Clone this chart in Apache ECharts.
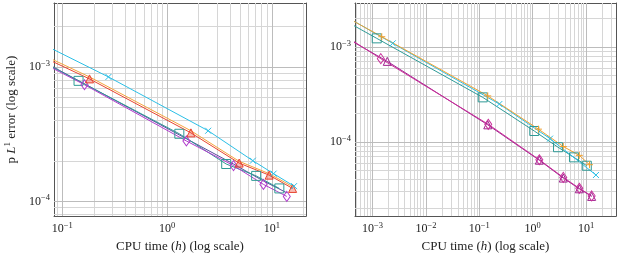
<!DOCTYPE html>
<html>
<head>
<meta charset="utf-8">
<title>CPU time vs p L1 error</title>
<script src="https://cdn.jsdelivr.net/npm/echarts@6/dist/echarts.min.js"></script>
<style>
  html, body { margin: 0; padding: 0; background: #fff; }
  #main { width: 621px; height: 258px; }
</style>
</head>
<body>
<div id="main"></div>
<script>
// ---- left panel data (CPU time in h, p L1 error) ----
// first point of every series lies left of the visible range, the line is clipped there
var leftCyanX   = [0.07, 0.276, 2.47, 6.59, 10.4, 16.3];
var leftCyanY   = [1.44e-3, 8.45e-4, 3.36e-4, 2.01e-4, 1.61e-4, 1.30e-4];
var leftOrangeX = [0.07, 0.182, 1.69, 4.88, 9.43, 15.8];
var leftOrangeY = [1.20e-3, 8.45e-4, 3.36e-4, 1.99e-4, 1.61e-4, 1.29e-4];
var leftRedX    = [0.07, 0.182, 1.69, 4.88, 9.43, 15.8];
var leftRedY    = [1.16e-3, 8.17e-4, 3.24e-4, 1.93e-4, 1.57e-4, 1.25e-4];
var leftTealX   = [0.07, 0.143, 1.31, 3.67, 7.09, 11.8];
var leftTealY   = [1.06e-3, 7.90e-4, 3.19e-4, 1.90e-4, 1.55e-4, 1.25e-4];
var leftIndigoX = [0.07, 1.53, 4.31, 8.32, 13.9];
var leftIndigoY = [1.07e-3, 2.93e-4, 1.90e-4, 1.42e-4, 1.16e-4];
var leftVioletX = [0.07, 0.163, 1.53, 4.31, 8.32, 13.9];
var leftVioletY = [1.04e-3, 7.39e-4, 2.82e-4, 1.85e-4, 1.34e-4, 1.09e-4];

// ---- right panel data ----
var rightOrangeX  = [2.5e-4, 1.49e-3, 0.144, 1.28, 3.74, 7.46, 11.6];
var rightOrangeY  = [2.23e-3, 1.28e-3, 3.05e-4, 1.36e-4, 8.92e-5, 7.20e-5, 5.74e-5];
var rightCyanX    = [2.5e-4, 2.39e-3, 0.237, 2.11, 15.3];
var rightCyanY    = [2.25e-3, 1.09e-3, 2.50e-4, 1.08e-4, 4.47e-5];
var rightTealX    = [2.5e-4, 1.20e-3, 0.116, 1.07, 2.98, 5.93, 10.3];
var rightTealY    = [2.01e-3, 1.23e-3, 2.94e-4, 1.30e-4, 8.77e-5, 6.86e-5, 5.60e-5];
var rightMagentaX = [2.5e-4, 1.43e-3, 0.147, 1.33, 3.74, 7.46, 12.7];
var rightMagentaY = [1.40e-3, 7.51e-4, 1.53e-4, 6.47e-5, 4.22e-5, 3.24e-5, 2.69e-5];
var rightPurpleX  = [2.5e-4, 1.89e-3, 0.144, 1.33, 3.74, 7.46, 12.7];
var rightPurpleY  = [1.35e-3, 7.04e-4, 1.51e-4, 6.40e-5, 4.15e-5, 3.20e-5, 2.66e-5];

// axis ranges
var leftXRange  = [0.0834, 21.2];
var leftYRange  = [7.78e-5, 3.0e-3];
var rightXRange = [4.7e-4, 36.3];
var rightYRange = [1.65e-5, 2.9e-3];

var FONT = 'Liberation Serif';

function zip(xs, ys) {
    return xs.map(function (x, i) { return [x, ys[i]]; });
}

// log grid values m x 10^d inside a range (major: m == 1)
function logGrid(range, major) {
    var out = [];
    var d0 = Math.floor(Math.log10(range[0])), d1 = Math.ceil(Math.log10(range[1]));
    for (var d = d0; d <= d1; d++) {
        for (var m = 1; m <= 9; m++) {
            if ((m === 1) !== major) continue;
            var v = m * Math.pow(10, d);
            if (v > range[0] * 1.001 && v < range[1] * 0.999) out.push(v);
        }
    }
    return out;
}

function powLabel(v) {
    var e = Math.log10(v);
    var r = Math.round(e);
    if (Math.abs(e - r) > 1e-6) return '';
    return '{n|10}{s|' + String(r).replace('-', '\u2212') + '}';
}

var labelRich = {
    n: { fontFamily: FONT, fontSize: 12, color: '#222', lineHeight: 16 },
    s: { fontFamily: FONT, fontSize: 8.5, color: '#222', verticalAlign: 'top', lineHeight: 16 }
};

function xAxisCfg(gridIndex, range, bottom) {
    return {
        type: 'log', gridIndex: gridIndex, min: range[0], max: range[1],
        position: bottom ? 'bottom' : 'top',
        axisLine: { show: true, lineStyle: { color: '#555', width: 1 } },
        axisTick: { show: true, inside: true, length: 4, lineStyle: { color: '#555' } },
        splitLine: { show: false },
        axisLabel: bottom ? { show: true, margin: 5, formatter: powLabel, rich: labelRich } : { show: false },
        name: bottom ? 'CPU time ({i|h}) (log scale)' : '',
        nameLocation: 'middle', nameGap: 23,
        nameTextStyle: {
            fontFamily: FONT, fontSize: 13, color: '#222',
            rich: { i: { fontFamily: FONT, fontSize: 13, fontStyle: 'italic', color: '#222' } }
        }
    };
}

function yAxisCfg(gridIndex, range, left, name) {
    return {
        type: 'log', gridIndex: gridIndex, min: range[0], max: range[1],
        position: left ? 'left' : 'right',
        axisLine: { show: true, lineStyle: { color: '#555', width: 1 } },
        axisTick: { show: true, inside: true, length: 4, lineStyle: { color: '#555' } },
        splitLine: { show: false },
        axisLabel: left ? { show: true, margin: 4, formatter: powLabel, rich: labelRich } : { show: false },
        name: name || '',
        nameLocation: 'middle', nameGap: 33, nameRotate: 90,
        nameTextStyle: {
            fontFamily: FONT, fontSize: 13, color: '#222',
            rich: {
                i: { fontFamily: FONT, fontSize: 13, fontStyle: 'italic', color: '#222', lineHeight: 18 },
                s: { fontFamily: FONT, fontSize: 9, color: '#222', verticalAlign: 'top', lineHeight: 18 }
            }
        }
    };
}

// grid lines drawn as a lines series below the data
function gridLines(xi, yi, xr, yr, major, color) {
    var data = [];
    logGrid(xr, major).forEach(function (v) { data.push({ coords: [[v, yr[0]], [v, yr[1]]] }); });
    logGrid(yr, major).forEach(function (v) { data.push({ coords: [[xr[0], v], [xr[1], v]] }); });
    return {
        type: 'lines', coordinateSystem: 'cartesian2d', xAxisIndex: xi, yAxisIndex: yi,
        silent: true, z: 1, symbol: 'none',
        lineStyle: { color: color, width: 1, opacity: 1, type: 'solid', curveness: 0 },
        data: data
    };
}

var CROSS = 'path://M0,0L10,10M10,0L0,10';
var PLUS = 'path://M5,0L5,10M0,5L10,5';

function lineSeries(xi, yi, xs, ys, color, symbol, size, fill) {
    return {
        type: 'line', xAxisIndex: xi, yAxisIndex: yi, z: 3,
        data: zip(xs, ys), clip: true,
        showSymbol: symbol !== 'none', symbol: symbol, symbolSize: size,
        lineStyle: { color: color, width: 1 },
        itemStyle: { color: fill || 'rgba(255,255,255,0)', borderColor: color, borderWidth: 1 }
    };
}

var series = [
    gridLines(0, 0, leftXRange, leftYRange, false, '#d6d6d6'),
    gridLines(0, 0, leftXRange, leftYRange, true, '#bcbcbc'),
    gridLines(2, 2, rightXRange, rightYRange, false, '#d6d6d6'),
    gridLines(2, 2, rightXRange, rightYRange, true, '#bcbcbc'),
    lineSeries(0, 0, leftIndigoX, leftIndigoY, '#5a4b9c', 'none', 0),
    lineSeries(0, 0, leftTealX, leftTealY, '#2f9a96', 'rect', 9),
    lineSeries(0, 0, leftVioletX, leftVioletY, '#b03ccc', 'diamond', [7, 10]),
    lineSeries(0, 0, leftOrangeX, leftOrangeY, '#f5a33c', 'none', 0),
    lineSeries(0, 0, leftRedX, leftRedY, '#e8432f', 'triangle', 8, 'rgba(232,67,47,0.35)'),
    lineSeries(0, 0, leftCyanX, leftCyanY, '#2cbfe6', CROSS, 6),
    lineSeries(2, 2, rightPurpleX, rightPurpleY, '#a0228f', 'triangle', 8),
    lineSeries(2, 2, rightMagentaX, rightMagentaY, '#c8309a', 'diamond', [7, 10]),
    lineSeries(2, 2, rightTealX, rightTealY, '#2f9a96', 'rect', 9),
    lineSeries(2, 2, rightCyanX, rightCyanY, '#2cbfe6', CROSS, 6),
    lineSeries(2, 2, rightOrangeX, rightOrangeY, '#f0a030', PLUS, 7)
];

var chart = echarts.init(document.getElementById('main'), null, { renderer: 'canvas' });
chart.setOption({
    animation: false,
    backgroundColor: '#fff',
    grid: [
        { left: 54, top: 3, width: 252, height: 217 },
        { left: 355, top: 3, width: 261, height: 217 }
    ],
    xAxis: [
        xAxisCfg(0, leftXRange, true),
        xAxisCfg(0, leftXRange, false),
        xAxisCfg(1, rightXRange, true),
        xAxisCfg(1, rightXRange, false)
    ],
    yAxis: [
        yAxisCfg(0, leftYRange, true, 'p {i|L}{s|1} error (log scale)'),
        yAxisCfg(0, leftYRange, false),
        yAxisCfg(1, rightYRange, true),
        yAxisCfg(1, rightYRange, false)
    ],
    series: series
});
</script>
</body>
</html>
